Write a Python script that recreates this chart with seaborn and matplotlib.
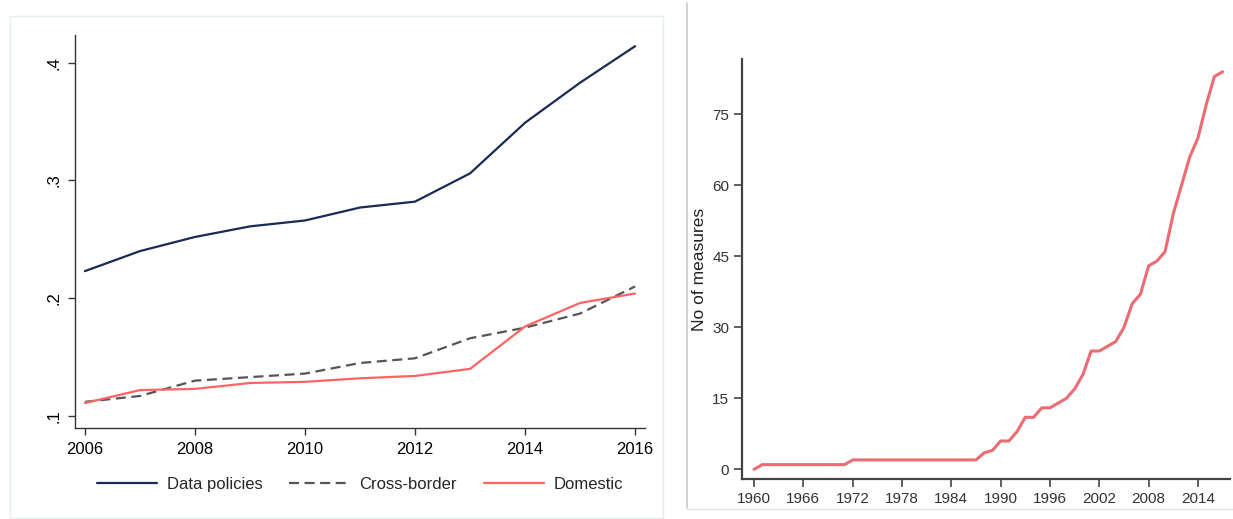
import matplotlib
matplotlib.use("Agg")
import matplotlib.pyplot as plt
from matplotlib.patches import Rectangle
from matplotlib.lines import Line2D
import numpy as np
import pandas as pd
import seaborn as sns

# ---- data: share of measures by type, 2006-2016 ----
years_left = [2006, 2007, 2008, 2009, 2010, 2011, 2012, 2013, 2014, 2015, 2016]
data_policies = [0.223, 0.240, 0.252, 0.261, 0.266, 0.277, 0.282, 0.306, 0.349, 0.383, 0.414]
cross_border = [0.112, 0.117, 0.130, 0.133, 0.136, 0.145, 0.149, 0.166, 0.175, 0.187, 0.210]
domestic = [0.111, 0.122, 0.123, 0.128, 0.129, 0.132, 0.134, 0.140, 0.176, 0.196, 0.204]
left_xticks = [2006, 2008, 2010, 2012, 2014, 2016]
left_yticks = [0.1, 0.2, 0.3, 0.4]
left_yticklabels = [".1", ".2", ".3", ".4"]
series_names = ["Data policies", "Cross-border", "Domestic"]

# ---- data: cumulative number of measures, 1960-2017 ----
years_right = list(range(1960, 2018))
measures = [0, 1, 1, 1, 1, 1, 1, 1, 1, 1, 1, 1, 2, 2, 2, 2, 2, 2, 2, 2,
            2, 2, 2, 2, 2, 2, 2, 2, 3.5, 4, 6, 6, 8, 11, 11, 13, 13, 14, 15, 17,
            20, 25, 25, 26, 27, 30, 35, 37, 43, 44, 46, 54, 60, 66, 70, 77, 83, 84]
right_xticks = list(range(1960, 2015, 6))
right_yticks = [0, 15, 30, 45, 60, 75]

sns.set_theme(style="white")
plt.rcParams["font.family"] = ["Liberation Sans", "DejaVu Sans"]

W, H = 1233, 519
fig = plt.figure(figsize=(W / 100, H / 100), dpi=100)
fig.patch.set_facecolor("white")

def px_box(x0, y0, x1, y1):
    return [x0 / W, 1 - y1 / H, (x1 - x0) / W, (y1 - y0) / H]

# panel frames
fig.add_artist(Rectangle((10 / W, 1 - 518 / H), (663 - 10) / W, (518 - 16) / H,
                         transform=fig.transFigure, fill=False,
                         edgecolor="#E4EEEE", lw=1.0))
fig.add_artist(Line2D([687 / W, 687 / W], [1 - 508 / H, 1 - 3 / H],
                      transform=fig.transFigure, color="#C8C8C8", lw=1.2))
fig.add_artist(Line2D([687 / W, 1.0], [1 - 509 / H, 1 - 509 / H],
                      transform=fig.transFigure, color="#E2E2E2", lw=1.0))

# ---- left panel ----
ax1 = fig.add_axes(px_box(75, 35, 645, 428))
df_left = pd.DataFrame({"year": years_left, "Data policies": data_policies,
                        "Cross-border": cross_border, "Domestic": domestic})
colors = {"Data policies": "#1B2A55", "Cross-border": "#555555", "Domestic": "#FF6464"}
sns.lineplot(data=df_left, x="year", y="Data policies", ax=ax1,
             color=colors["Data policies"], lw=1.6)
sns.lineplot(data=df_left, x="year", y="Cross-border", ax=ax1,
             color=colors["Cross-border"], lw=1.6, dashes=False)
ax1.lines[-1].set_dashes((4.5, 2.5))
sns.lineplot(data=df_left, x="year", y="Domestic", ax=ax1,
             color=colors["Domestic"], lw=1.6)

ax1.set_xlim(2005.82, 2016.18)
ax1.set_ylim(0.0898, 0.4235)
ax1.set_xticks(left_xticks)
ax1.set_xticklabels([str(y) for y in left_xticks], fontsize=12, color="black")
ax1.set_yticks(left_yticks)
ax1.set_yticklabels(left_yticklabels, fontsize=12, color="black",
                    rotation=90, va="center")
ax1.set_xlabel("")
ax1.set_ylabel("")
for s in ["top", "right"]:
    ax1.spines[s].set_visible(False)
for s in ["left", "bottom"]:
    ax1.spines[s].set_color("#333333")
    ax1.spines[s].set_linewidth(1.0)
ax1.tick_params(axis="both", which="major", length=5, width=1.0,
                color="#333333", direction="out", pad=5,
                bottom=True, left=True)

handles = [Line2D([], [], color=colors["Data policies"], lw=1.6),
           Line2D([], [], color=colors["Cross-border"], lw=1.6, dashes=(4.5, 2.5)),
           Line2D([], [], color=colors["Domestic"], lw=1.6)]
ax1.legend(handles, series_names, loc="center", bbox_to_anchor=(0.5, -0.1425),
           ncol=3, frameon=False, fontsize=12, handlelength=3.6,
           handletextpad=0.6, columnspacing=1.6)

# ---- right panel ----
ax2 = fig.add_axes(px_box(741.7, 59, 1230, 479.3))
df_right = pd.DataFrame({"year": years_right, "measures": measures})
sns.lineplot(data=df_right, x="year", y="measures", ax=ax2,
             color="#EE6B74", lw=2.2)
ax2.set_xlim(1958.5, 2017.9)
ax2.set_ylim(-2.1, 86.7)
ax2.set_xticks(right_xticks)
ax2.set_xticklabels([str(y) for y in right_xticks], fontsize=11, color="#333333")
ax2.set_yticks(right_yticks)
ax2.set_yticklabels([str(v) for v in right_yticks], fontsize=11, color="#333333")
ax2.set_xlabel("")
ax2.set_ylabel("No of measures", fontsize=12.5, color="#222222", labelpad=4)
for s in ["top", "right"]:
    ax2.spines[s].set_visible(False)
for s in ["left", "bottom"]:
    ax2.spines[s].set_color("#444444")
    ax2.spines[s].set_linewidth(1.6)
ax2.tick_params(axis="both", which="major", length=6, width=1.2,
                color="#444444", direction="out", pad=3,
                bottom=True, left=True)

fig.savefig("out.png", dpi=100, facecolor="white")
